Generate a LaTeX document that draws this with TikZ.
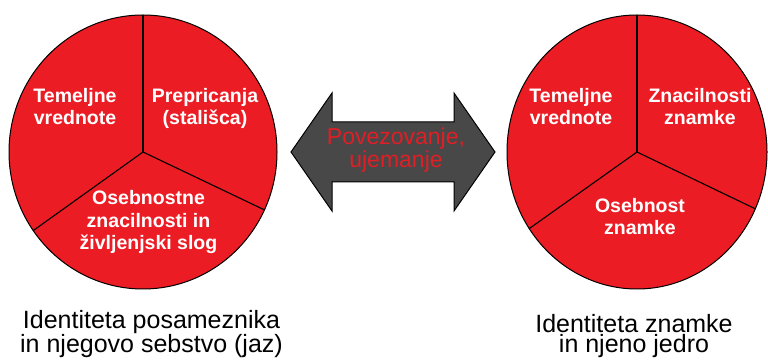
\documentclass[tikz,border=0pt]{standalone}
\usepackage{fontspec}
\setmainfont{Liberation Sans}
\definecolor{pieRed}{RGB}{236,28,36}
\definecolor{arrowGray}{RGB}{72,72,72}
\definecolor{linkRed}{RGB}{224,30,38}
\begin{document}
\begin{tikzpicture}[x=1pt,y=1pt,
  wedge/.style={fill=pieRed, draw=black, line width=1pt},
  spoke/.style={draw=black, line width=1.1pt},
  % multi-line labels are placed by the baseline of their last line
  pielabel/.style={text=white, font=\fontsize{19.5}{22.5}\selectfont\bfseries,
    align=center, anchor=base, inner sep=0pt},
  linklabel/.style={text=linkRed, font=\fontsize{23}{23}\selectfont,
    align=center, anchor=base, inner sep=0pt},
  caption/.style={text=black, font=\fontsize{25}{20}\selectfont,
    align=center, anchor=base, inner sep=0pt},
  bigarrow/.style={fill=arrowGray, draw=black, line width=1pt, line join=miter}
]
\useasboundingbox (0,0) rectangle (768,361);

% left pie: the individual
\coordinate (hubL) at (143,209);
\draw[wedge] (hubL) ellipse [x radius=134, y radius=137];
\draw[spoke] (hubL) -- ++(90:134 and 137);
\draw[spoke] (hubL) -- ++(215:134 and 137);
\draw[spoke] (hubL) -- ++(-25:134 and 137);

% right pie: the brand
\coordinate (hubR) at (637,209);
\draw[wedge] (hubR) ellipse [x radius=130, y radius=137];
\draw[spoke] (hubR) -- ++(90:130 and 137);
\draw[spoke] (hubR) -- ++(214:130 and 137);
\draw[spoke] (hubR) -- ++(-24.5:130 and 137);

% double arrow between the pies
\draw[bigarrow] (291,209) -- (332,268) -- (332,239) -- (454,239) -- (454,268)
  -- (495,209) -- (454,150) -- (454,179) -- (332,179) -- (332,150) -- cycle;
\node[linklabel] (link) at (396,193) {Povezovanje,\\ujemanje};

% segment labels, left pie
\node[pielabel] (valuesL) at (75,236) {Temeljne\\vrednote};
\node[pielabel] (beliefs) at (205,236) {Prepricanja\\(stališca)};
\node[pielabel] (persona) at (148.5,111) {Osebnostne\\znacilnosti in\\življenjski slog};

% segment labels, right pie
\node[pielabel] (valuesR) at (571,236) {Temeljne\\vrednote};
\node[pielabel] (traits) at (700,236) {Znacilnosti\\znamke};
\node[pielabel] (brandpers) at (640,126) {Osebnost\\znamke};

% captions
\node[caption] (capL) at (151.5,8) {Identiteta posameznika\\in njegovo sebstvo (jaz)};
\node[caption] (capR) at (634,8) {Identiteta znamke\\in njeno jedro};
\end{tikzpicture}
\end{document}
